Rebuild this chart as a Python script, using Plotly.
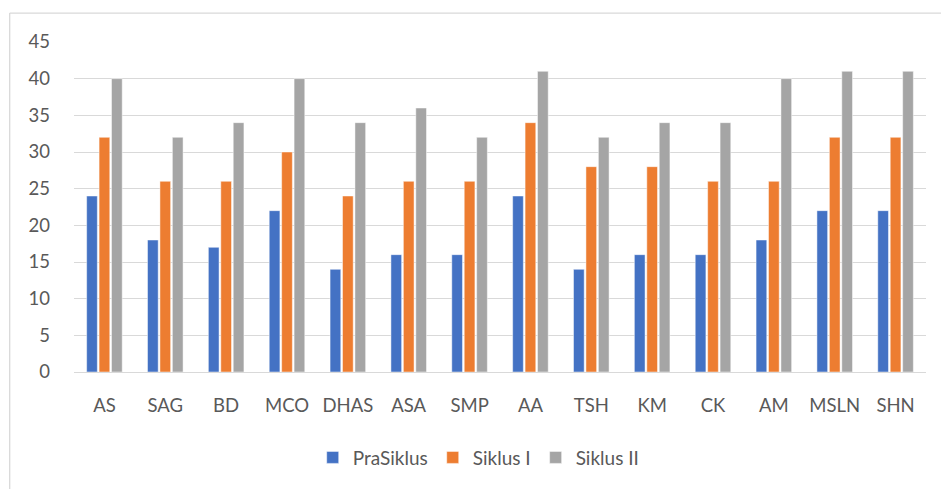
import plotly.graph_objects as go

categories = ["AS", "SAG", "BD", "MCO", "DHAS", "ASA", "SMP", "AA", "TSH", "KM", "CK", "AM", "MSLN", "SHN"]
pra_siklus = [24, 18, 17, 22, 14, 16, 16, 24, 14, 16, 16, 18, 22, 22]
siklus_1 = [32, 26, 26, 30, 24, 26, 26, 34, 28, 28, 26, 26, 32, 32]
siklus_2 = [40, 32, 34, 40, 34, 36, 32, 41, 32, 34, 34, 40, 41, 41]
y_ticks = [0, 5, 10, 15, 20, 25, 30, 35, 40, 45]

W, H = 941, 489
L, R, T, B = 74, 15, 41.7, 116.7
pw, ph = W - L - R, H - T - B

fig = go.Figure()
for name, vals, col in [("PraSiklus", pra_siklus, "#4472C4"),
                        ("Siklus I", siklus_1, "#ED7D31"),
                        ("Siklus II", siklus_2, "#A5A5A5")]:
    fig.add_trace(go.Bar(x=categories, y=vals, name=name,
                         marker=dict(color=col, line=dict(color="rgba(255,255,255,0.6)", width=0.8))))

def px(x):
    return (x - L) / pw

def py(y):
    return (H - B - y) / ph

fig.add_shape(type="line", xref="paper", yref="paper", x0=px(9.7), x1=px(W + 5), y0=py(12.7), y1=py(12.7),
              line=dict(color="#D9D9D9", width=1.3))
fig.add_shape(type="line", xref="paper", yref="paper", x0=px(9.7), x1=px(9.7), y0=py(12.7), y1=py(H + 5),
              line=dict(color="#D9D9D9", width=1.3))

fig.update_layout(
    width=W, height=H,
    margin=dict(l=L, r=R, t=T, b=B, autoexpand=False),
    paper_bgcolor="white", plot_bgcolor="white",
    barmode="group", bargap=0.387, bargroupgap=0.14,
    font=dict(family="Lato, 'Open Sans', sans-serif", size=18.5, color="#595959"),
    showlegend=True,
    legend=dict(orientation="h", x=0.475, xanchor="center", y=py(458), yanchor="middle",
                font=dict(size=19, color="#595959"), itemwidth=30, traceorder="normal"),
    xaxis=dict(showgrid=False, showline=False, ticks="", ticklabelstandoff=20, tickfont=dict(size=18.5)),
    yaxis=dict(range=[0, 45], tickvals=y_ticks, showgrid=True, gridcolor="#D9D9D9", gridwidth=1.3,
               zeroline=True, zerolinecolor="#D9D9D9", zerolinewidth=1.3, showline=False,
               ticks="", ticklabelstandoff=23, tickfont=dict(size=18.5)),
)

fig.write_html("out.html", config={"displayModeBar": False},
               post_script="document.body.style.margin='0';document.body.style.overflow='hidden';")
